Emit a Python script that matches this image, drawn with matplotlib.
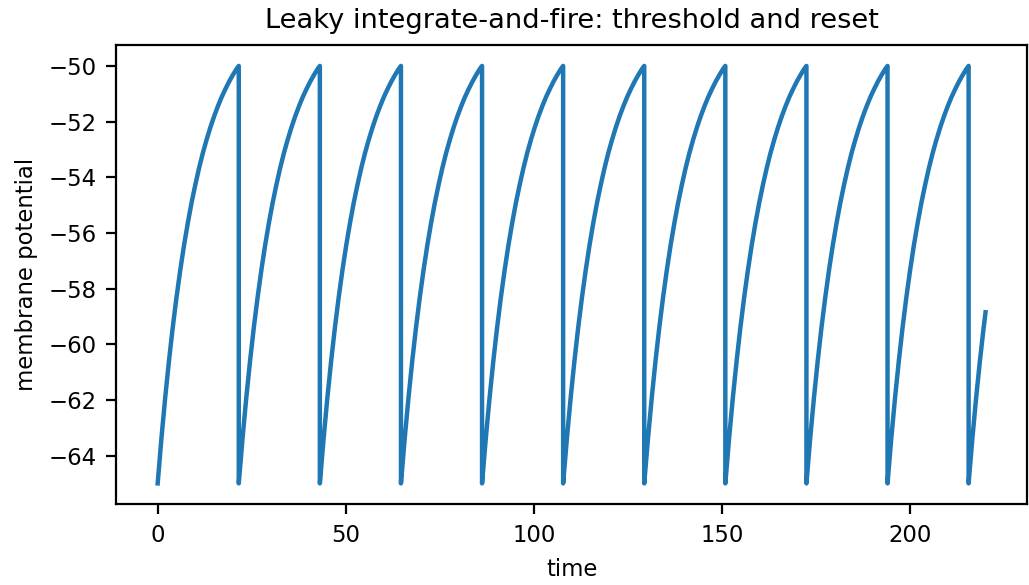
import numpy as np
import matplotlib
matplotlib.use("Agg")
import matplotlib.pyplot as plt

plt.rcParams["font.size"] = 8.2

# spike times (threshold crossings) and run length
spike_times = [21.55, 43.1, 64.65, 86.2, 107.75, 129.3, 150.85, 172.4,
               193.95, 215.5]
t_end = 220.0

# membrane potential during one charge-up, sampled after each reset
rise_offsets = [0, 0.5, 1, 1.5, 2, 2.5, 3, 3.5, 4, 4.5, 5, 6, 7, 8, 9, 10,
                11, 12, 13, 14, 15, 16, 17, 18, 19, 20, 21, 21.55]
rise_values = [-65.0, -64.17, -63.38, -62.63, -61.92, -61.24, -60.6, -59.99,
               -59.4, -58.85, -58.32, -57.34, -56.45, -55.65, -54.92, -54.27,
               -53.67, -53.13, -52.65, -52.21, -51.81, -51.45, -51.12, -50.83,
               -50.56, -50.32, -50.1, -50.0]

# stitch the trace together: rise, spike/reset, rise again...
t_trace = []
v_trace = []
starts = [0.0] + spike_times
for i, t0 in enumerate(starts):
    t_next = spike_times[i] if i < len(spike_times) else t_end
    for off, v in zip(rise_offsets, rise_values):
        if t0 + off <= t_next + 1e-9:
            t_trace.append(t0 + off)
            v_trace.append(v)

t_trace = np.array(t_trace)
v_trace = np.array(v_trace)

fig, ax = plt.subplots(figsize=(1029 / 200, 585 / 200), dpi=200)
fig.subplots_adjust(left=0.113, right=0.998, top=0.923, bottom=0.138)

ax.plot(t_trace, v_trace, color="#1f77b4", lw=1.6)
ax.set_title("Leaky integrate-and-fire: threshold and reset")
ax.set_xlabel("time")
ax.set_ylabel("membrane potential")
ax.set_yticks(np.arange(-64, -49, 2))

fig.savefig("out.png", dpi=200)
